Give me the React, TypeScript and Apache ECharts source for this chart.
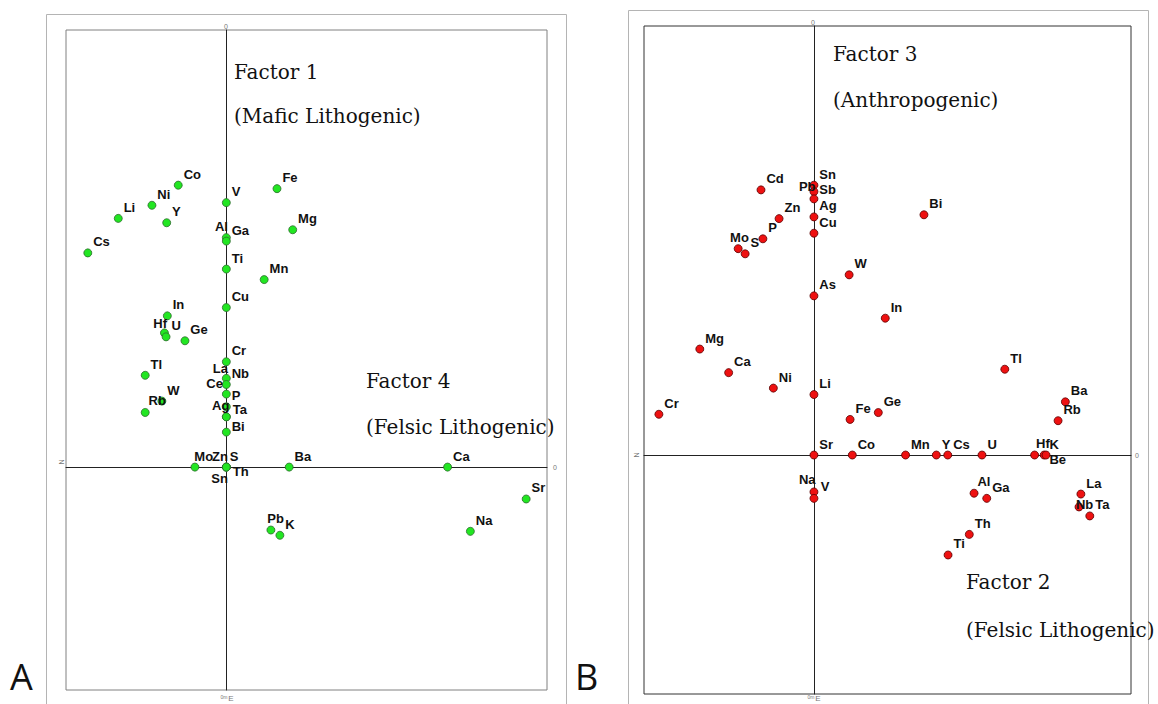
import React, { useEffect, useRef } from "react";
import * as echarts from "echarts";

// ---- Panel A : Factor 1 (y) vs Factor 4 (x) ----
const namesA = ["Co","Fe","V","Ni","Li","Y","Mg","Al","Ga","Cs","Ti","Mn","Cu","In","Hf","U","Ge","Tl","W","Rb","Cr","La","Nb","Ce","P","Ag","Ta","Bi","Mo","Zn","S","Sn","Th","Ba","Ca","Sr","Pb","K","Na"];
const xA = [-0.150,0.158,0,-0.232,-0.337,-0.186,0.207,0,0,-0.432,0,0.118,0,-0.184,-0.193,-0.188,-0.129,-0.253,-0.201,-0.253,0,0,0,0,0,0,0,0,-0.098,0,0,0,0,0.196,0.690,0.935,0.139,0.167,0.761];
const yA = [0.645,0.637,0.605,0.599,0.569,0.559,0.543,0.525,0.517,0.490,0.453,0.429,0.365,0.346,0.307,0.298,0.289,0.210,0.151,0.125,0.241,0.203,0.189,0.167,0.138,0.115,0.115,0.080,0,0,0,0,0,0,0,-0.073,-0.144,-0.156,-0.147];

// ---- Panel B : Factor 3 (y) vs Factor 2 (x) ----
const namesB = ["Cd","Sn","Pb","Sb","Ag","Cu","Zn","P","Mo","S","Bi","W","As","In","Mg","Ca","Ni","Li","Cr","Fe","Ge","Tl","Ba","Rb","Sr","Co","Mn","Y","Cs","U","Hf","K","Be","Na","V","Al","Ga","La","Nb","Ta","Th","Ti"];
const xB = [-0.167,0,0,0,0,0,-0.110,-0.161,-0.239,-0.217,0.347,0.111,0,0.225,-0.360,-0.269,-0.128,0,-0.489,0.114,0.203,0.602,0.793,0.770,0,0.121,0.289,0.386,0.422,0.530,0.696,0.726,0.732,0,0,0.505,0.545,0.842,0.836,0.870,0.490,0.423];
const yB = [0.618,0.629,0.614,0.597,0.555,0.517,0.551,0.504,0.481,0.469,0.560,0.420,0.371,0.319,0.247,0.192,0.156,0.141,0.095,0.083,0.099,0.200,0.124,0.080,0,0,0,0,0,0,0,0,0,-0.086,-0.101,-0.089,-0.101,-0.091,-0.121,-0.142,-0.185,-0.233];

// label placement tweaks (layout only): [side, dx, dy]
const labelLayoutA: Record<string, [string, number, number]> = {
  Al: ["l", 7, -11], Hf: ["l", 8, -9.5], Rb: ["r", -2, -12], La: ["l", 7, -10],
  Ce: ["l", 2, -11], Ag: ["l", 8.5, -11], Ta: ["r", 1, -7], Bi: ["r", 0, -6],
  Mo: ["r", -6, -11], Zn: ["l", 7, -11], S: ["r", -2, -11], Sn: ["l", 7, 11.5],
  Th: ["r", 1, 4], Pb: ["r", -9, -12],
};
const labelLayoutB: Record<string, [string, number, number]> = {
  Pb: ["l", 7, -5], Sb: ["r", 0, -9], Mo: ["r", -13.5, -11], Hf: ["r", -4, -12],
  Be: ["r", -2, 4], Na: ["l", 7, -12], V: ["r", 1.5, -12], Al: ["r", -2, -12],
  Nb: ["r", -8.5, -2],
};

function buildPoints(names: string[], xs: number[], ys: number[], layout: Record<string, [string, number, number]>) {
  return names.map((n, i) => {
    const l = layout[n] || ["r", 0, -11];
    return {
      name: n,
      value: [xs[i], ys[i]],
      label: { position: l[0] === "l" ? "left" : "right", offset: [l[1], l[2]] },
    };
  });
}

const serif = "'DejaVu Serif', serif";
const tiny = (x: number, y: number, text: string, rot = 0, size = 7) => ({
  type: "text", x, y, rotation: rot,
  style: { text, fontSize: size, fontFamily: "'Liberation Sans', sans-serif", fill: "#777", align: "center", verticalAlign: "middle" },
});
const bigText = (x: number, y: number, text: string) => ({
  type: "text", x, y, z: 10,
  style: { text, fontSize: 20, fontFamily: serif, fill: "#111", verticalAlign: "middle" },
});
const panelLetter = (x: number, text: string) => ({
  type: "text", x, y: 658,
  style: { text, fontSize: 36, lineHeight: 36, fontFamily: "'Open Sans', sans-serif", fill: "#111", verticalAlign: "top" },
});

export default function App() {
  const ref = useRef<HTMLDivElement>(null);
  useEffect(() => {
    if (!ref.current) return;
    const chart = echarts.init(ref.current, undefined, { renderer: "svg" });
    const axisCommon = {
      type: "value",
      axisLine: { show: true, onZero: true, lineStyle: { color: "#222", width: 1 } },
      axisTick: { show: false },
      axisLabel: { show: false },
      splitLine: { show: false },
    };
    const labelCommon = {
      show: true,
      formatter: "{b}",
      distance: 1,
      fontSize: 13,
      fontWeight: "bold",
      fontFamily: "'Liberation Sans', Arial, sans-serif",
      color: "#111",
    };
    chart.setOption({
      animation: false,
      backgroundColor: "#fff",
      grid: [
        { left: 66, top: 30, width: 481, height: 660, show: true, borderColor: "#808080", borderWidth: 1, backgroundColor: "transparent" },
        { left: 644, top: 26, width: 487, height: 668, show: true, borderColor: "#333", borderWidth: 1, backgroundColor: "transparent" },
      ],
      xAxis: [
        { ...axisCommon, gridIndex: 0, min: -0.5, max: 1.0 },
        { ...axisCommon, gridIndex: 1, min: -0.536, max: 1.0 },
      ],
      yAxis: [
        { ...axisCommon, gridIndex: 0, min: -0.51, max: 1.0 },
        { ...axisCommon, gridIndex: 1, min: -0.557, max: 1.0 },
      ],
      series: [
        {
          type: "scatter", xAxisIndex: 0, yAxisIndex: 0, symbol: "circle", symbolSize: 8, silent: true,
          itemStyle: { color: "#22e622", borderColor: "#2d6b2d", borderWidth: 0.8, opacity: 1 },
          label: labelCommon,
          data: buildPoints(namesA, xA, yA, labelLayoutA),
        },
        {
          type: "scatter", xAxisIndex: 1, yAxisIndex: 1, symbol: "circle", symbolSize: 8, silent: true,
          itemStyle: { color: "#ee1111", borderColor: "#5a0000", borderWidth: 0.8, opacity: 1 },
          label: labelCommon,
          data: buildPoints(namesB, xB, yB, labelLayoutB),
        },
      ],
      graphic: [
        { type: "rect", shape: { x: 46.5, y: 14.5, width: 520, height: 700 }, style: { fill: "none", stroke: "#b4b4b4", lineWidth: 1 }, silent: true },
        { type: "rect", shape: { x: 628.5, y: 10.5, width: 520, height: 700 }, style: { fill: "none", stroke: "#b4b4b4", lineWidth: 1 }, silent: true },
        bigText(234, 72, "Factor 1"),
        bigText(234, 116, "(Mafic Lithogenic)"),
        bigText(366, 381, "Factor 4"),
        bigText(366, 427, "(Felsic Lithogenic)"),
        bigText(833, 54, "Factor 3"),
        bigText(833, 100, "(Anthropogenic)"),
        bigText(966, 582, "Factor 2"),
        bigText(966, 630, "(Felsic Lithogenic)"),
        panelLetter(10, "A"),
        panelLetter(575, "B"),
        tiny(226, 26, "0"),
        tiny(61, 462, "N", Math.PI / 2),
        tiny(555, 467, "0"),
        tiny(224, 697, "0m", 0, 5),
        tiny(231, 698, "E", 0, 8),
        tiny(813, 22, "0"),
        tiny(636, 455, "N", Math.PI / 2),
        tiny(1137, 455, "0"),
        tiny(811, 697, "0m", 0, 5),
        tiny(818, 698, "E", 0, 8),
      ],
    });
    return () => chart.dispose();
  }, []);
  return <div ref={ref} style={{ position: "absolute", left: 0, top: 0, width: 1158, height: 704 }} />;
}
